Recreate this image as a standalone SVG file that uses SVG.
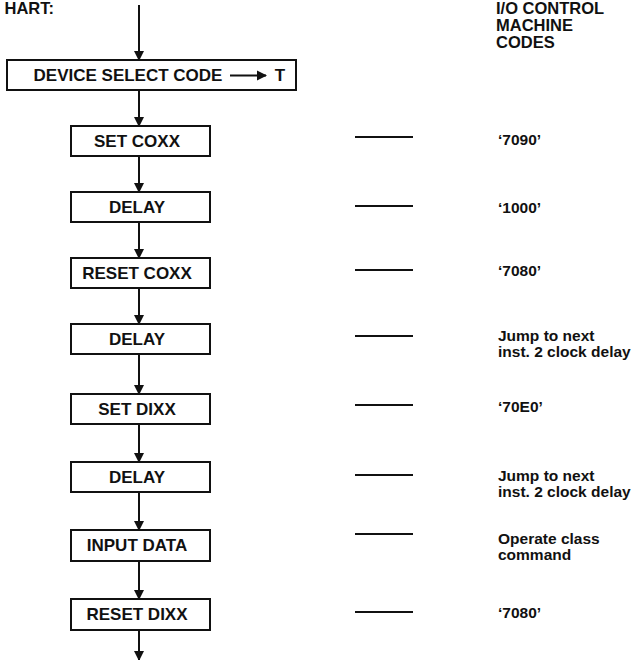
<svg xmlns="http://www.w3.org/2000/svg" width="640" height="660" viewBox="0 0 640 660">
<defs>
<marker id="ah" markerWidth="10" markerHeight="16" refX="9" refY="5" orient="auto" markerUnits="userSpaceOnUse" viewBox="0 0 10 10">
<path d="M0,0 L10,5 L0,10 Z" fill="#111"/>
</marker>
</defs>
<style>
text{font-family:"Liberation Sans",Arial,sans-serif;font-weight:bold;fill:#111}
.bt{font-size:17px;text-anchor:middle}
.rt{font-size:15.5px}
.hd{font-size:16.5px}
rect{fill:#fff;stroke:#111;stroke-width:2}
.c line{stroke:#111;stroke-width:2}
.d{stroke:#111;stroke-width:2}
</style>
<rect width="640" height="660" style="fill:#fff;stroke:none"/>
<text class="hd" x="54" y="14" text-anchor="end">HART:</text>
<g id="header">
<text class="hd" x="496" y="14">I/O CONTROL</text>
<text class="hd" x="496" y="31">MACHINE</text>
<text class="hd" x="496" y="48">CODES</text>
</g>
<g class="c" id="connectors">
<line x1="139" y1="5" x2="139" y2="60" marker-end="url(#ah)"/>
<line x1="139" y1="90" x2="139" y2="126" marker-end="url(#ah)"/>
<line x1="139" y1="156" x2="139" y2="192" marker-end="url(#ah)"/>
<line x1="139" y1="222" x2="139" y2="258" marker-end="url(#ah)"/>
<line x1="139" y1="288" x2="139" y2="324" marker-end="url(#ah)"/>
<line x1="139" y1="354" x2="139" y2="394" marker-end="url(#ah)"/>
<line x1="139" y1="424" x2="139" y2="462" marker-end="url(#ah)"/>
<line x1="139" y1="492" x2="139" y2="530" marker-end="url(#ah)"/>
<line x1="139" y1="561" x2="139" y2="599" marker-end="url(#ah)"/>
<line x1="139" y1="630" x2="139" y2="660" marker-end="url(#ah)"/>
</g>
<g id="n0">
<rect x="7" y="60" width="289" height="30"/>
<text class="bt" x="128" y="81">DEVICE SELECT CODE</text>
<line x1="230" y1="75.5" x2="266" y2="75.5" class="d" marker-end="url(#ah)"/>
<text class="bt" x="280" y="81">T</text>
</g>
<g id="n1"><rect x="71" y="126" width="139" height="30"/><text class="bt" x="137" y="147">SET COXX</text></g>
<g id="n2"><rect x="71" y="192" width="139" height="30"/><text class="bt" x="137" y="213">DELAY</text></g>
<g id="n3"><rect x="71" y="258" width="139" height="30"/><text class="bt" x="137" y="279">RESET COXX</text></g>
<g id="n4"><rect x="71" y="324" width="139" height="30"/><text class="bt" x="137" y="345">DELAY</text></g>
<g id="n5"><rect x="71" y="394" width="139" height="30"/><text class="bt" x="137" y="415">SET DIXX</text></g>
<g id="n6"><rect x="71" y="462" width="139" height="30"/><text class="bt" x="137" y="483">DELAY</text></g>
<g id="n7"><rect x="71" y="530" width="139" height="31"/><text class="bt" x="137" y="551">INPUT DATA</text></g>
<g id="n8"><rect x="71" y="599" width="139" height="31"/><text class="bt" x="137" y="620">RESET DIXX</text></g>
<g id="codes">
<line class="d" x1="355" y1="137" x2="413" y2="137"/><text class="rt" x="498" y="145">‘7090’</text>
<line class="d" x1="355" y1="206" x2="413" y2="206"/><text class="rt" x="498" y="213">‘1000’</text>
<line class="d" x1="355" y1="270" x2="413" y2="270"/><text class="rt" x="498" y="276">‘7080’</text>
<line class="d" x1="355" y1="336" x2="413" y2="336"/><text class="rt" x="498" y="341">Jump to next</text><text class="rt" x="498" y="357">inst. 2 clock delay</text>
<line class="d" x1="355" y1="405" x2="413" y2="405"/><text class="rt" x="498" y="412">‘70E0’</text>
<line class="d" x1="355" y1="475" x2="413" y2="475"/><text class="rt" x="498" y="481">Jump to next</text><text class="rt" x="498" y="497">inst. 2 clock delay</text>
<line class="d" x1="355" y1="534" x2="413" y2="534"/><text class="rt" x="498" y="544">Operate class</text><text class="rt" x="498" y="560">command</text>
<line class="d" x1="355" y1="612" x2="413" y2="612"/><text class="rt" x="498" y="618">‘7080’</text>
</g>
</svg>
